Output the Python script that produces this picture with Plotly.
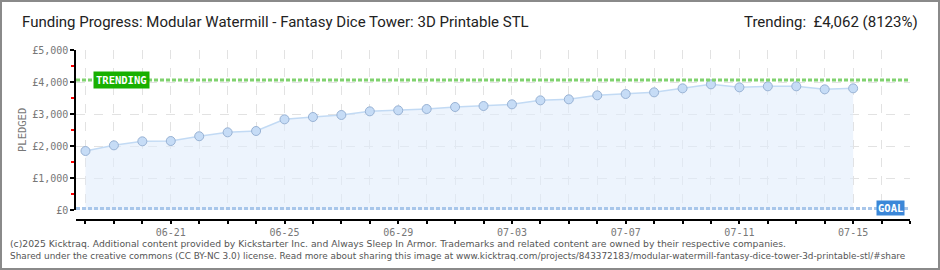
import plotly.graph_objects as go
import pandas as pd

# ---- data ----
dates = pd.date_range("2025-06-18", "2025-07-15", freq="D").strftime("%Y-%m-%d").tolist()
pledged = [1844, 2021, 2146, 2156, 2305, 2427, 2469, 2833, 2906, 2969, 3083, 3115, 3156, 3219,
           3250, 3302, 3427, 3458, 3583, 3625, 3677, 3802, 3927, 3833, 3865, 3865, 3771, 3802]
trending = 4062
goal = 50
tick_days = pd.date_range("2025-06-18", "2025-07-17", freq="D").strftime("%Y-%m-%d").tolist()
label_days = ["2025-06-21", "2025-06-25", "2025-06-29", "2025-07-03", "2025-07-07", "2025-07-11", "2025-07-15"]
tick_text = [d[5:] if d in label_days else "" for d in tick_days]
y_ticks = [0, 1000, 2000, 3000, 4000, 5000]
y_tick_text = ["£0", "£1,000", "£2,000", "£3,000", "£4,000", "£5,000"]
title = "Funding Progress: Modular Watermill - Fantasy Dice Tower: 3D Printable STL"
trend_text = "Trending:  £4,062 (8123%)"
footer1 = ("(c)2025 Kicktraq. Additional content provided by Kickstarter Inc. and Always Sleep In Armor. "
           "Trademarks and related content are owned by their respective companies.")
footer2 = ("Shared under the creative commons (CC BY-NC 3.0) license. Read more about sharing this image at "
           "www.kicktraq.com/projects/843372183/modular-watermill-fantasy-dice-tower-3d-printable-stl/#share")

W, H = 940, 270
L, R, T, B = 76, 30, 50, 50
PW, PH = W - L - R, H - T - B


def px(x):
    return (x - L) / PW


def py(y):
    return (H - B - y) / PH


x_range = ["2025-06-17 16:00", "2025-07-17 00:00"]
mono = "DejaVu Sans Mono"

fig = go.Figure()
fig.add_trace(go.Scatter(
    x=dates, y=pledged, mode="lines+markers", fill="tozeroy",
    fillcolor="rgba(225,237,251,0.6)",
    line=dict(color="#c2daf4", width=1.5),
    marker=dict(size=9, color="#c6dcf6", line=dict(color="#98b2d4", width=1)),
    cliponaxis=False, hoverinfo="x+y", showlegend=False,
))
# invisible trace for the bottom (offset) axis
fig.add_trace(go.Scatter(x=dates, y=pledged, xaxis="x2", mode="markers",
                         marker=dict(opacity=0), hoverinfo="skip", showlegend=False))

# trending & goal lines
fig.add_shape(type="line", xref="paper", yref="y", x0=0, x1=1, y0=trending, y1=trending,
              line=dict(color="#80d26f", width=3, dash="4px,2px"), layer="above")
fig.add_shape(type="line", xref="paper", yref="y", x0=0, x1=1, y0=goal, y1=goal,
              line=dict(color="#a8c6ea", width=3, dash="4px,2px"), layer="above")

# labels on lines
fig.add_annotation(xref="paper", yref="y", x=px(93), y=trending, xanchor="left", yanchor="middle",
                   text="<b>TRENDING</b>", showarrow=False, font=dict(family=mono, size=10.5, color="white"),
                   bgcolor="#18b000", borderpad=2)
fig.add_annotation(xref="paper", yref="y", x=px(905), y=goal, xanchor="right", yanchor="middle",
                   text="<b>GOAL</b>", showarrow=False, font=dict(family=mono, size=10.5, color="white"),
                   bgcolor="#3b87d8", borderpad=1)

# texts
fig.add_annotation(xref="paper", yref="paper", x=px(20), y=py(22), xanchor="left", yanchor="middle",
                   text=title, showarrow=False, font=dict(family="Roboto", size=15, color="#222"))
fig.add_annotation(xref="paper", yref="paper", x=px(920), y=py(22), xanchor="right", yanchor="middle",
                   text=trend_text, showarrow=False, font=dict(family="Roboto", size=15, color="#222"))
fig.add_annotation(xref="paper", yref="paper", x=px(22), y=py(130), xanchor="center", yanchor="middle",
                   text="PLEDGED", textangle=-90, showarrow=False,
                   font=dict(family=mono, size=10.5, color="#777"))
fig.add_annotation(xref="paper", yref="paper", x=px(8), y=py(243), xanchor="left", yanchor="middle",
                   text=footer1, showarrow=False, font=dict(family="DejaVu Sans", size=9.25, color="#555"))
fig.add_annotation(xref="paper", yref="paper", x=px(8), y=py(256), xanchor="left", yanchor="middle",
                   text=footer2, showarrow=False, font=dict(family="DejaVu Sans", size=8.9, color="#555"))

# border
fig.add_shape(type="rect", xref="paper", yref="paper", x0=px(1), x1=px(939), y0=py(269), y1=py(1),
              line=dict(color="#8a8a8a", width=2), layer="above")

fig.update_layout(
    width=W, height=H, margin=dict(l=L, r=R, t=T, b=B),
    paper_bgcolor="white", plot_bgcolor="white",
    xaxis=dict(type="date", range=x_range, anchor="y", tickvals=tick_days, showticklabels=False,
               ticks="", showgrid=True, gridcolor="#e2e2e2", griddash="dash", gridwidth=1,
               showline=False, zeroline=False, fixedrange=True),
    xaxis2=dict(type="date", range=x_range, overlaying="x", anchor="free", position=0,
                tickvals=tick_days, ticktext=tick_text, ticks="outside", ticklen=3,
                tickcolor="black", tickwidth=1.5, showline=True, linecolor="black", linewidth=1.5,
                showgrid=False, zeroline=False, tickfont=dict(family=mono, size=10, color="#777")),
    yaxis=dict(range=[0, 5000], domain=[10 / PH, 1], tickvals=y_ticks, ticktext=y_tick_text,
               ticks="outside", ticklen=4, tickcolor="black", tickwidth=1.5,
               showline=True, linecolor="black", linewidth=1.5, showgrid=True,
               gridcolor="#e2e2e2", griddash="dash", zeroline=False,
               minor=dict(dtick=500, ticks="outside", ticklen=3, tickcolor="red", showgrid=False),
               tickfont=dict(family=mono, size=10, color="#777")),
)

fig.write_html("out.html")
